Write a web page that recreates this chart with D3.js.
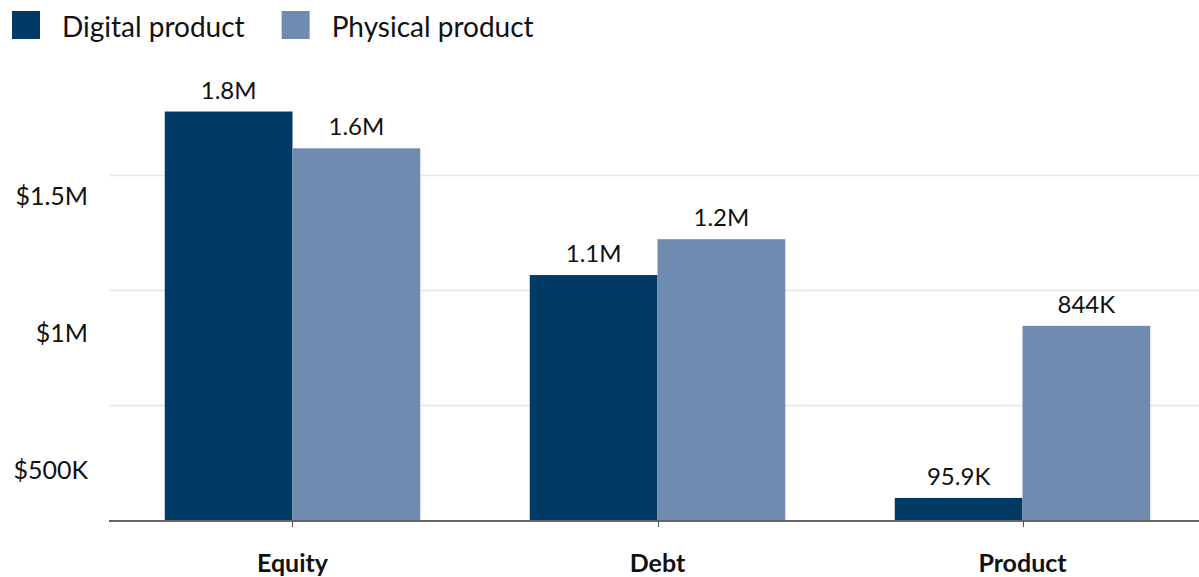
<!DOCTYPE html>
<html>
<head>
<meta charset="utf-8">
<script src="https://cdn.jsdelivr.net/npm/d3@7"></script>
<style>
  body { margin: 0; background: #fff; }
  text { font-family: Lato, "Noto Sans", sans-serif; fill: #111; }
</style>
</head>
<body>
<div id="chart"></div>
<script>
// data
var categories = ["Equity", "Debt", "Product"];
var seriesNames = ["Digital product", "Physical product"];
var digital = [1776000, 1065000, 95900];
var physical = [1616000, 1221000, 844000];
var yTicks = [500000, 1000000, 1500000];
var yTickLabels = ["$500K", "$1M", "$1.5M"];

var colors = ["#023a66", "#6f8bb0"];

var width = 1199, height = 577;

var svg = d3.select("#chart")
  .append("svg")
    .attr("width", width)
    .attr("height", height);

// scales
var x = d3.scaleBand()
    .domain(categories)
    .range([110, 1205])
    .paddingInner(0.3)
    .paddingOuter(0.15);
var x1 = d3.scaleBand()
    .domain(seriesNames)
    .range([0, x.bandwidth()]);
var y = d3.scaleLinear()
    .domain([0, 1500000])
    .range([520, 175]);
// the tick labels sit on their own (slightly stretched) scale in the original
var yLabel = d3.scaleLinear()
    .domain([0, 1500000])
    .range([608, 196]);

// gridlines
svg.append("g")
  .selectAll("line")
  .data(yTicks)
  .enter()
  .append("line")
    .attr("x1", 110)
    .attr("x2", width)
    .attr("y1", function(d) { return Math.round(y(d)) + 0.5; })
    .attr("y2", function(d) { return Math.round(y(d)) + 0.5; })
    .attr("stroke", "#e6e6e6")
    .attr("stroke-width", 1.5);

// y labels
svg.append("g")
  .selectAll("text")
  .data(yTicks)
  .enter()
  .append("text")
    .attr("x", 88)
    .attr("y", function(d) { return yLabel(d); })
    .attr("dy", "0.35em")
    .attr("text-anchor", "end")
    .style("font-size", "25px")
    .text(function(d, i) { return yTickLabels[i]; });

var rows = categories.map(function(c, i) {
  return {cat: c, values: [digital[i], physical[i]]};
});

function fmt(v) {
  if (v >= 1e6) return (v / 1e6).toFixed(1) + "M";
  return d3.format(".3~s")(v).replace("k", "K");
}

// bars
var groups = svg.append("g")
  .selectAll("g")
  .data(rows)
  .enter()
  .append("g")
    .attr("transform", function(d) { return "translate(" + x(d.cat) + ",0)"; });

groups.selectAll("rect")
  .data(function(d) { return d.values; })
  .enter()
  .append("rect")
    .attr("x", function(d, i) { return x1(seriesNames[i]); })
    .attr("width", x1.bandwidth())
    .attr("y", function(d) { return y(d); })
    .attr("height", function(d) { return y(0) - y(d); })
    .attr("fill", function(d, i) { return colors[i]; });

groups.selectAll("text")
  .data(function(d) { return d.values; })
  .enter()
  .append("text")
    .attr("x", function(d, i) { return x1(seriesNames[i]) + x1.bandwidth() / 2; })
    .attr("y", function(d) { return y(d) - 13; })
    .attr("text-anchor", "middle")
    .style("font-size", "24px")
    .text(fmt);

// baseline + ticks
svg.append("line")
    .attr("x1", 109)
    .attr("x2", width)
    .attr("y1", y(0) + 1)
    .attr("y2", y(0) + 1)
    .attr("stroke", "#666")
    .attr("stroke-width", 2);

svg.append("g")
  .selectAll("line")
  .data(categories)
  .enter()
  .append("line")
    .attr("x1", function(d) { return Math.round(x(d) + x.bandwidth() / 2) + 0.5; })
    .attr("x2", function(d) { return Math.round(x(d) + x.bandwidth() / 2) + 0.5; })
    .attr("y1", y(0) + 1)
    .attr("y2", y(0) + 7)
    .attr("stroke", "#555")
    .attr("stroke-width", 1);

svg.append("g")
  .selectAll("text")
  .data(categories)
  .enter()
  .append("text")
    .attr("x", function(d) { return x(d) + x.bandwidth() / 2; })
    .attr("y", 572)
    .attr("text-anchor", "middle")
    .style("font-size", "25px")
    .style("font-weight", "bold")
    .text(function(d) { return d; });

// legend
var lx = 12;
seriesNames.forEach(function(name, i) {
  var g = svg.append("g").attr("transform", "translate(" + lx + ",11)");
  g.append("rect")
    .attr("width", 28)
    .attr("height", 28)
    .attr("fill", colors[i]);
  var t = g.append("text")
    .attr("x", 50)
    .attr("y", 26)
    .style("font-size", "28px")
    .text(name);
  lx += 50 + t.node().getComputedTextLength() + 37;
});
</script>
</body>
</html>
